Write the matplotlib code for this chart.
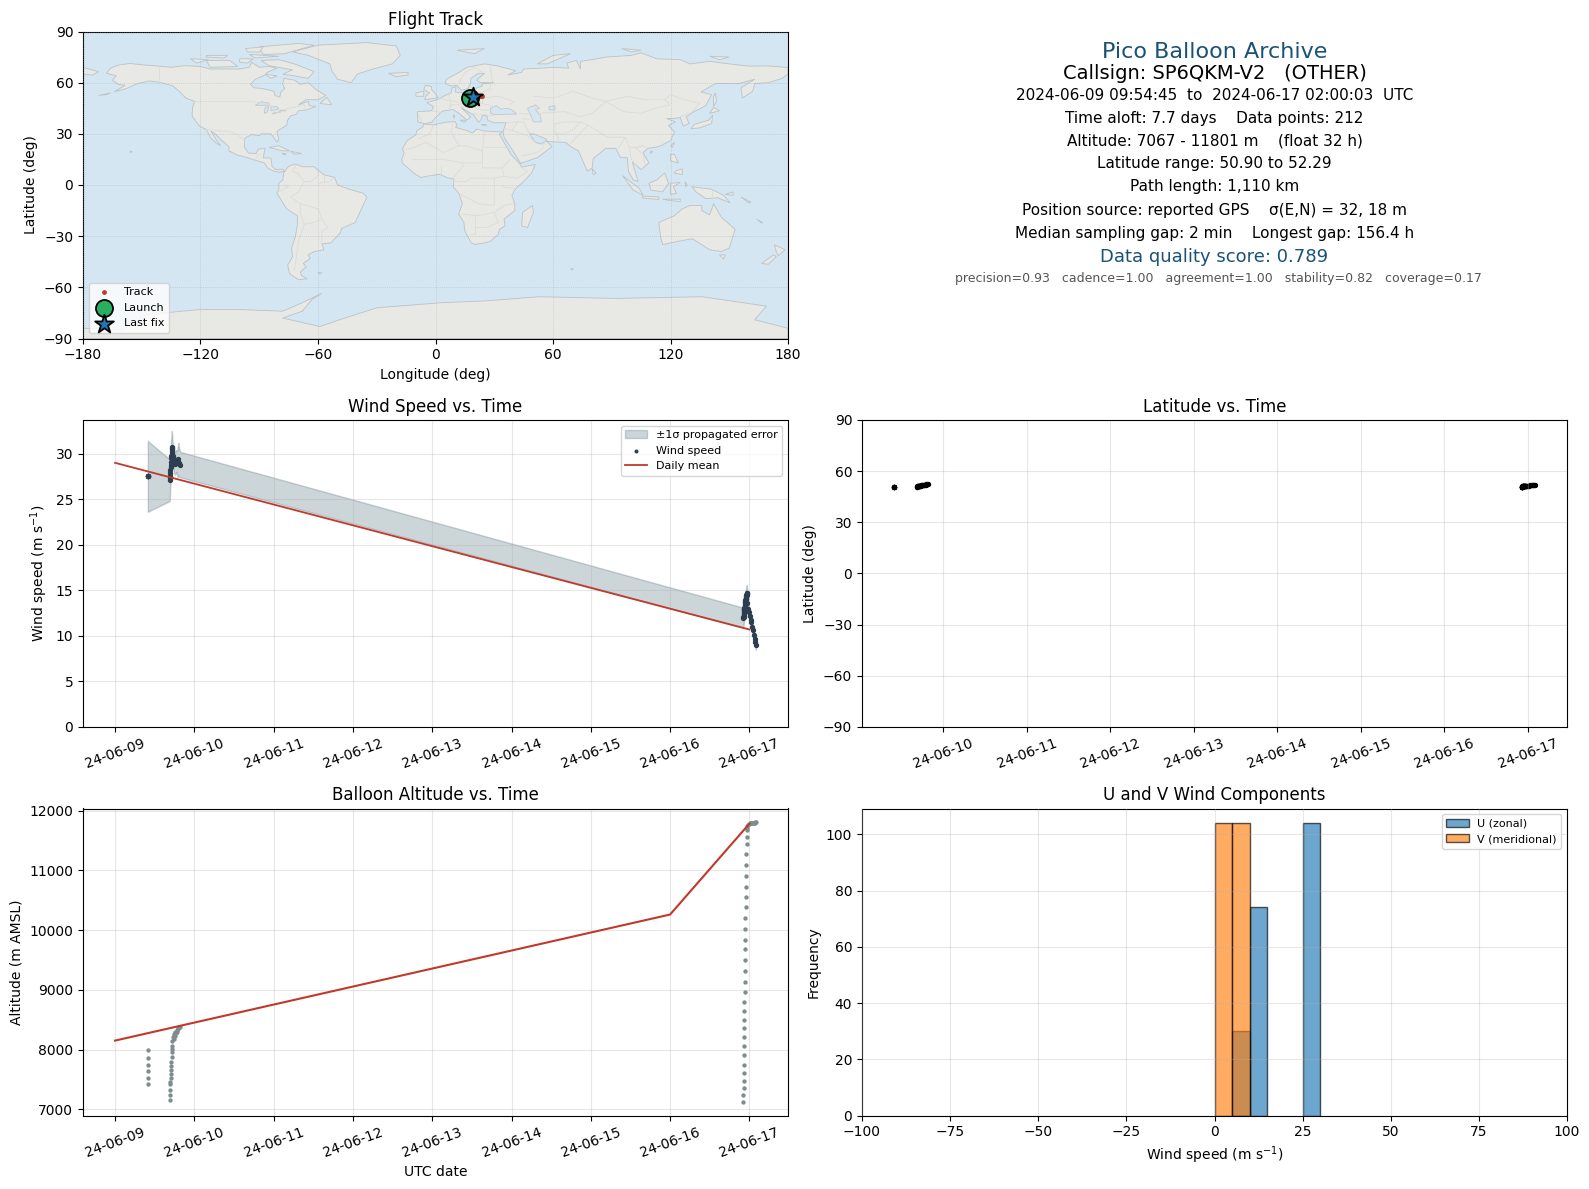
import numpy as np
import matplotlib
matplotlib.use("Agg")
import matplotlib.pyplot as plt
import matplotlib.dates as mdates
from matplotlib.patches import Polygon
from matplotlib.collections import LineCollection

# ---------- flight data (day of June 2024) ----------
days_a = [9.413, 9.414, 9.415, 9.416, 9.417, 9.418]
wind_a = [27.5, 27.5, 27.5, 27.5, 27.6, 27.5]
sig_a = [3.85, 3.85, 3.85, 3.85, 3.85, 3.85]
alt_a = [7425, 7525, 7642, 7743, 7860, 8000]
lat_a = [50.9, 50.95, 50.95, 51.0, 51.0, 51.0]
lon_a = [17.6, 17.6, 17.6, 17.6, 17.6, 17.6]

days_b = [9.689, 9.691, 9.693, 9.695, 9.698, 9.700, 9.702, 9.705, 9.707, 9.710, 9.713, 9.716, 9.719, 9.722]
wind_b = [27.1, 27.3, 27.6, 27.9, 28.2, 28.5, 28.8, 29.1, 29.5, 29.8, 30.1, 30.5, 30.6, 30.7]
sig_b = [2.3, 2.2, 2.0, 1.8, 1.7, 1.6, 1.6, 1.8, 2.0, 2.0, 2.1, 2.0, 1.6, 1.3]
alt_b = [7157, 7240, 7324, 7425, 7464, 7530, 7592, 7654, 7720, 7799, 7871, 7955, 8011, 8067]
lat_b = [51.0, 51.0, 51.05, 51.05, 51.1, 51.1, 51.15, 51.15, 51.2, 51.2, 51.25, 51.3, 51.3, 51.35]
lon_b = [17.8, 17.9, 18.0, 18.1, 18.2, 18.3, 18.4, 18.5, 18.6, 18.7, 18.8, 18.9, 19.0, 19.1]

days_c = [9.724, 9.730, 9.738, 9.746, 9.752, 9.760, 9.768, 9.776, 9.784, 9.792, 9.800, 9.810, 9.824]
wind_c = [30.3, 29.8, 29.4, 29.1, 29.0, 28.9, 29.1, 29.2, 29.0, 29.1, 29.4, 29.0, 28.8]
sig_c = [1.1, 1.0, 1.2, 1.3, 1.2, 1.2, 1.3, 1.2, 1.3, 1.7, 1.8, 1.5, 1.4]
alt_c = [8151, 8207, 8180, 8263, 8230, 8300, 8270, 8330, 8300, 8365, 8340, 8380, 8385]
lat_c = [51.4, 51.5, 51.6, 51.7, 51.75, 51.8, 51.9, 52.0, 52.05, 52.1, 52.2, 52.25, 52.29]
lon_c = [19.4, 19.8, 20.2, 20.6, 21.0, 21.4, 21.8, 22.2, 22.5, 22.8, 23.1, 23.4, 23.8]

days_d = [16.924, 16.925, 16.926, 16.927, 16.928, 16.929, 16.930, 16.931, 16.932, 16.933,
          16.935, 16.936, 16.937, 16.939, 16.940, 16.942, 16.943, 16.945, 16.946, 16.948,
          16.950, 16.952, 16.954, 16.956, 16.958, 16.960, 16.962, 16.964, 16.966, 16.968]
wind_d = [12.0, 12.1, 12.1, 12.2, 12.3, 12.4, 12.5, 12.6, 12.7, 12.8,
          12.9, 13.0, 13.1, 13.2, 13.3, 13.4, 13.5, 13.6, 13.7, 13.8,
          13.9, 14.0, 14.1, 14.2, 14.3, 14.4, 14.5, 14.6, 14.7, 14.7]
sig_d = [1.1, 1.1, 1.1, 1.1, 1.1, 1.1, 1.1, 1.0, 1.0, 1.0,
         1.0, 1.0, 1.0, 1.0, 1.0, 1.0, 1.0, 1.0, 1.0, 1.0,
         1.0, 1.0, 1.0, 1.0, 0.9, 0.9, 0.9, 0.9, 0.9, 0.9]
alt_d = [7130, 7235, 7357, 7475, 7609, 7743, 7911, 8061, 8212, 8363,
         8497, 8648, 8799, 8967, 9134, 9319, 9503, 9687, 9838, 10022,
         10207, 10391, 10559, 10727, 10911, 11095, 11280, 11447, 11565, 11671]
lat_d = [50.95, 50.95, 50.95, 51.0, 51.0, 51.0, 51.0, 51.0, 51.0, 51.05,
         51.05, 51.05, 51.05, 51.05, 51.1, 51.1, 51.1, 51.1, 51.1, 51.1,
         51.15, 51.15, 51.15, 51.15, 51.2, 51.2, 51.2, 51.2, 51.25, 51.25]
lon_d = [17.6, 17.6, 17.7, 17.7, 17.8, 17.8, 17.8, 17.9, 17.9, 17.9,
         18.0, 18.0, 18.0, 18.1, 18.1, 18.1, 18.2, 18.2, 18.2, 18.3,
         18.3, 18.3, 18.4, 18.4, 18.4, 18.5, 18.5, 18.5, 18.6, 18.6]

days_e = [16.970, 16.975, 16.985, 16.995, 17.005, 17.015, 17.025, 17.035, 17.045, 17.055, 17.065, 17.075, 17.083]
wind_e = [14.5, 13.6, 13.0, 12.6, 12.2, 11.8, 11.5, 11.0, 10.6, 10.1, 9.7, 9.3, 9.0]
sig_e = [0.9, 0.8, 0.8, 0.7, 0.7, 0.7, 0.6, 0.6, 0.6, 0.6, 0.5, 0.5, 0.5]
alt_e = [11700, 11740, 11760, 11780, 11785, 11790, 11790, 11795, 11795, 11800, 11800, 11801, 11801]
lat_e = [51.3, 51.35, 51.4, 51.45, 51.5, 51.55, 51.6, 51.65, 51.7, 51.75, 51.8, 51.85, 51.9]
lon_e = [18.6, 18.65, 18.7, 18.75, 18.8, 18.85, 18.9, 18.95, 19.0, 19.0, 19.05, 19.05, 19.1]

mean_days = [9, 16, 17]
mean_alt = [8150, 10260, 11780]
mean_wind_days = [9, 17]
mean_wind = [29.0, 10.7]

launch = (17.6, 50.8)
last_fix = (19.1, 51.4)

hist_width = 5
u_left = [5, 10, 25]
u_counts = [30, 74, 104]
v_left = [0, 5]
v_counts = [104, 104]

info_lines = [
    "Pico Balloon Archive",
    "Callsign: SP6QKM-V2   (OTHER)",
    "2024-06-09 09:54:45  to  2024-06-17 02:00:03  UTC",
    "Time aloft: 7.7 days    Data points: 212",
    "Altitude: 7067 - 11801 m    (float 32 h)",
    "Latitude range: 50.90 to 52.29",
    "Path length: 1,110 km",
    "Position source: reported GPS    σ(E,N) = 32, 18 m",
    "Median sampling gap: 2 min    Longest gap: 156.4 h",
    "Data quality score: 0.789",
    "precision=0.93   cadence=1.00   agreement=1.00   stability=0.82   coverage=0.17",
]

# ---------- map outlines (lon, lat) ----------
land = [
    # North America
    [(-168,65.5),(-166,68.5),(-162,70.3),(-156,71.3),(-150,70.5),(-141,69.7),(-135,69),(-128,70),(-120,69.5),(-115,68),(-108,68),(-100,68),(-95,69),(-94,72),(-90,69),(-85,69.5),(-81,68.5),(-86,66),(-87,64.5),(-92,62),(-94.5,59),(-92.5,57),(-88,56.5),(-82.5,55),(-82,52.5),(-79.5,51.5),(-79,54.5),(-77,56.5),(-78,59),(-77.5,62.5),(-72,61.5),(-69,59),(-65,60),(-61,56),(-56,52.5),(-60,50),(-66,50),(-70,47),(-65,49),(-64.5,46.5),(-61,46),(-66,44),(-70,43.5),(-71,41.5),(-74,40.5),(-75.5,38),(-76,35),(-81,31.5),(-80,26.5),(-81,25.2),(-82.7,28),(-84,30),(-89,30),(-90,29),(-94,29.5),(-97.3,27.5),(-97.7,22.5),(-95.5,18.7),(-91.5,18.5),(-90.5,21),(-87,21.5),(-88,16),(-84,15.8),(-83.5,11),(-81.5,9),(-78,9.3),(-77,8),(-80,7.5),(-83,8.3),(-85.7,10),(-87.5,13),(-92,14.5),(-96,16),(-101,17.5),(-105.5,20),(-105.5,22.5),(-109,26),(-112.5,30),(-114.7,31.7),(-112,26.5),(-109.7,23),(-112,24.5),(-115,28),(-117,32.5),(-120.5,34.5),(-122.5,37.5),(-124.3,40.5),(-124,46),(-123,49),(-127.5,51),(-130.5,54.5),(-134,58),(-140,60),(-146,61),(-152,59.5),(-158,56.5),(-164,54.7),(-158.5,58.5),(-162,59),(-165,61.5),(-163,64),(-168,65.5)],
    # South America
    [(-77,8),(-75,11),(-71.5,12.3),(-68,10.7),(-62,10.7),(-57,6),(-51.5,4.5),(-50,0),(-44,-2.5),(-37,-4.8),(-35,-7),(-37,-12),(-39,-17),(-41,-22),(-48,-25.5),(-48.5,-28),(-53.5,-34),(-58,-34.5),(-57,-38),(-62,-39),(-65,-41),(-64,-43),(-67.5,-46),(-66,-48),(-69,-51),(-68.5,-53),(-65.5,-55),(-70,-55.5),(-74.5,-52),(-75.5,-47),(-73,-42),(-73.5,-37),(-71.5,-30),(-70.5,-23),(-70.5,-18),(-76,-14),(-79.5,-7.5),(-81,-5),(-80,-2.5),(-80,1),(-78,3),(-77.5,7),(-77,8)],
    # Africa
    [(-5.8,35.8),(-1,35.2),(5,36.8),(10,37.2),(11,35),(10.2,33.8),(15,32.3),(19,30.5),(21,32.8),(25,31.7),(32,31.2),(34.3,31.2),(32.6,29.8),(34,27),(37,21),(38.5,18),(41,15),(43.3,12),(44,10.5),(51,12),(49,7),(45,2),(41,-2),(39,-6),(40.5,-11),(40.5,-15),(35,-20),(35.5,-24),(32.7,-26),(32,-29),(28,-33),(25,-34),(20,-34.8),(18.3,-34),(15,-27),(14.5,-22),(11.8,-17),(13.7,-11),(12,-5),(9,-1),(9.5,3.5),(6,4.3),(2,6.3),(-4,5.2),(-7.5,4.4),(-11,6.8),(-13.5,9.5),(-16.7,12.5),(-17.3,14.7),(-16,19),(-17,21),(-14.5,26),(-10,29.5),(-9.5,32),(-6.5,34),(-5.8,35.8)],
    # Eurasia
    [(-9,37),(-9.3,43),(-2,43.5),(-1,46),(-4.5,48.4),(1,50),(4,52),(8,54),(8.5,57),(10.5,57.5),(10,54.5),(14,54),(19,54.5),(21,57),(24,58),(23.5,59.3),(30,60),(23,60),(21,61.5),(25,65.5),(22,65.5),(18,62.5),(18,60),(16.5,56.5),(13,55.5),(11,58.5),(8,58),(5,59.5),(5.5,62),(12,66),(16,69),(25,71),(31,70),(41,67),(37,64.5),(44,66),(45,68),(54,68.5),(60,69),(68,68.5),(67,71.5),(72,73),(74,68),(74,72.5),(80,73.5),(87,75),(100,76),(105,77.5),(113,74),(125,73.5),(130,71),(140,72.5),(150,71),(160,69.7),(170,69.8),(180,68.9),(180,65),(177,62.5),(170,60),(163,59.5),(162,55),(156.7,51),(156,57),(163,62),(155,59.5),(143,59.5),(135.5,54.5),(141,53),(138,46.5),(132,43),(128,40),(129.5,36),(126.5,34.5),(125,39.5),(121,39),(118,39),(122.5,37),(119,35),(122,31),(120,26),(114,22.5),(108.5,21.5),(106,19),(109,13),(105,9),(100.5,13.5),(103.5,2),(101,3),(98.5,8),(98,16),(94.5,16),(92,21.5),(87,21.5),(80.5,15.5),(80,10),(77.5,8),(73,20),(69,22.5),(66.5,25),(57,25.5),(56.5,27),(50,30),(48,30),(51,25),(54,24),(56.5,26),(59.5,22.5),(52,16),(43.5,12.7),(39,21),(35,28),(34.5,31.3),(36,36.5),(30,36.5),(26.5,38),(26.3,40.5),(24,40.7),(23,38),(22,36.7),(19.5,41),(13,45.5),(18,40),(16,38),(12,42),(9,44.3),(3.5,43.3),(0,39.5),(-2,36.7),(-5.5,36),(-9,37)],
    # Chukotka across the date line
    [(-180,68.9),(-172,66.5),(-175,64.5),(-180,65)],
    # Greenland and Arctic islands
    [(-73,78),(-60,82),(-35,83.5),(-20,81.5),(-18,76),(-22,71),(-32,68),(-40,65),(-43,60),(-50,62),(-53,67),(-54,71),(-65,76),(-73,78)],
    [(-80,73.5),(-72,71),(-62,66.5),(-65,62.5),(-72,64),(-78,65),(-73,67.5),(-85,70),(-89,73),(-80,73.5)],
    [(-117,73),(-105,73),(-101,69.5),(-115,69),(-117,73)],
    [(-90,81),(-70,83),(-62,82),(-77,77),(-88,76.5),(-90,81)],
    [(-125,74),(-116,73.5),(-122,71.5),(-125,74)],
    [(-95,76.5),(-80,75.5),(-92,74.5)],
    [(-117,76),(-106,76),(-108,74.5),(-117,75)],
    [(-100,74),(-93,74),(-96,71.5),(-100,72)],
    [(-87,65),(-81,64),(-84,62.5)],
    [(-97,80),(-88,81),(-90,78),(-96,78)],
    [(-59,47.8),(-53,47),(-55.5,51.5),(-59,47.8)],
    [(-85,22),(-80,23),(-74.5,20),(-78,20),(-85,22)],
    [(-74,19.8),(-68.5,18.5),(-72,18)],
    [(-78.3,18.4),(-76.3,18.2),(-77,17.8)],
    [(-156,20),(-155,19.5),(-155.7,19)],
    [(-172,52.5),(-166,54),(-168,53)],
    [(-5.5,50),(1.3,51.2),(0,53.5),(-2,56),(-2,57.7),(-5,58.5),(-6,56),(-3,54),(-5,52),(-5.5,50)],
    [(-10,52),(-6,52),(-6,55),(-10,54)],
    [(-24,65.5),(-14,66),(-14,64.5),(-20,63.5),(-24,65.5)],
    [(11,79),(25,80),(20,77),(11,79)],
    [(52,71),(57,71),(69,77),(60,76),(52,71)],
    [(95,80),(105,79),(100,78)],
    [(140,75.5),(150,75),(145,73.5)],
    [(9,41),(9.7,41),(9.5,39)],
    [(12.5,38),(15.5,38),(15,36.7)],
    [(23.5,35.5),(26,35.2),(24.5,35)],
    [(130.5,33),(135,33.5),(141,36),(141.5,41),(139.5,38),(132,35.5),(130.5,33)],
    [(140,42),(145,43.5),(142,45.5)],
    [(142,46),(143.5,49),(143,54),(142,52)],
    [(120,23),(121,22),(122,25)],
    [(110,20),(111,19.5),(109.5,18.3)],
    [(120,18),(122,18),(124,13),(120,14)],
    [(122,7),(126,6),(126,9.5),(123,8.5)],
    [(109,1),(113,3),(117,7),(119,1),(116,-4),(110,-3)],
    [(95.5,5.5),(104,-2),(106,-6),(101,-3)],
    [(105.5,-6.5),(114,-7),(114,-8.5),(106,-7.7)],
    [(116,-8.3),(125,-8.3),(125,-9.7),(119,-9)],
    [(120,1),(125,1.5),(121.5,-1),(123,-5),(120,-5.5)],
    [(127.5,2),(128.5,0),(127.7,-1)],
    [(131,-1),(141,-2.5),(147,-6),(150.5,-10.5),(144,-7.5),(138,-8),(133,-4)],
    [(148,-5.5),(152,-4),(152,-6)],
    [(156,-7),(161,-10),(160,-10.5)],
    [(164,-20),(167,-22),(166.5,-22.3)],
    # Australia and neighbours
    [(114,-22),(122,-18),(126,-14),(130,-12),(136,-12),(136,-15),(140,-17.5),(142,-11),(146,-19),(153,-26),(150,-37),(146,-39),(140,-38),(136,-35),(131,-31.5),(124,-33),(116,-35),(115,-31),(114,-22)],
    [(145,-41),(148,-41),(147,-43.5)],
    [(173,-35),(178.5,-38),(175,-41.5),(174,-39)],
    [(172.5,-41),(174,-42),(170,-46.5),(166.5,-46)],
    [(49.5,-12),(50,-16),(47,-25),(44,-24),(44.5,-16)],
    [(80,9.5),(82,7),(80.5,6)],
    [(-60,-51.3),(-58,-51.5),(-59,-52.3)],
    [(69,-49),(70.5,-49.3),(69.5,-49.8)],
    # Antarctica
    [(-180,-90),(-180,-84),(-160,-85),(-148,-76),(-120,-73),(-100,-73),(-78,-74),(-68,-69),(-58,-63.5),(-63,-67),(-68,-74),(-78,-78),(-59,-83),(-49,-79),(-30,-72),(3,-69),(25,-68),(53,-65.5),(93,-66.5),(136,-65.5),(169,-71),(163,-79),(180,-84),(180,-90)],
]
inland_water = [
    [(-92,46.7),(-85,46.8),(-85,48),(-89,48.8)],
    [(-87.5,42),(-86,42.5),(-85,46),(-87,45.5)],
    [(-84,43.5),(-80,44.5),(-81,46),(-84,46)],
    [(-83,41.7),(-79,42.8),(-79.5,42.9),(-83,42.2)],
    [(-79.5,43.3),(-76.5,43.5),(-76.5,44),(-79.5,43.8)],
    [(28,42),(28,45),(31,46.5),(33.5,44.5),(37,45),(39,44),(41.5,41.6),(36,41.5),(31,41.2)],
    [(47,45),(51,47),(53,45),(51,44),(53.5,41),(54,37),(50,37),(49,40)],
    [(58,46),(61,46.5),(61,44),(58,44)],
]
borders = [
    [(-141,69.7),(-141,60)], [(-123,49),(-95,49),(-88,48),(-83,46),(-82,42),(-79,43),(-75,45),(-70,46),(-67,47.5),(-67,45)],
    [(-117,32.5),(-108,31.5),(-106,31.7),(-101,29.5),(-97.5,26)], [(-92,14.5),(-91,17.5),(-89,18)],
    [(-71,12),(-73,8),(-70,6.5),(-67,2),(-70,-4),(-74,-7),(-69,-11),(-69,-17),(-67,-23),(-70,-33),(-72,-50)],
    [(-60,8),(-60,5),(-64,2),(-67,2)], [(-57,6),(-57,2)], [(-52,4),(-54,2),(-60,1)],
    [(-69,-11),(-60,-14),(-58,-20),(-55,-25),(-58,-27),(-58,-34)], [(-67,-23),(-62,-22),(-58,-20)], [(-78,0),(-75,-1),(-80,-4)],
    [(-9,27),(-3,30),(-1,35)], [(9,37),(8,31),(12,23),(15,23),(24,20),(25,31.5)], [(25,22),(36,22)], [(24,20),(24,10),(34,10),(35,5),(42,4),(47,8),(43,11)],
    [(-17,21),(-13,21),(-5,25),(4,19),(12,23)], [(-12,15),(-5,15),(4,15),(14,13),(24,13)], [(3,6),(3,12)], [(9,4),(14,11),(14,13)],
    [(9,2),(16,2),(18,4),(30,4),(35,5)], [(12,-5),(22,-11),(30,-12),(30,-8),(30,4)], [(13,-17),(22,-18),(30,-16),(35,-12),(40,-11)],
    [(20,-18),(20,-29),(17,-29)], [(20,-25),(26,-25),(32,-22),(30,-16)], [(34,10),(38,15)], [(34,-1),(41,-2)],
    [(-2,43.4),(3,42.5)], [(-9,42),(-7,37.2)], [(2,51),(8,49),(7,44)], [(7,54),(7,50),(13,48),(17,48),(23,48),(30,46)], [(14,54),(15,51),(19,49.5),(24,48),(24,51),(23,54),(21,55)],
    [(23,54),(28,56),(28,59.5)], [(24,51),(32,52),(40,49),(38,47)], [(13,47),(8,47),(7,44)], [(13,46),(19,46),(23,44),(29,44)], [(19,42),(22,41),(26,41.5)],
    [(28,70),(29,61),(30,60)], [(20,69),(24,66)], [(12,60),(15,66),(20,69)],
    [(26,41),(30,41)], [(36,36.5),(42,37),(45,37),(48,30)], [(35,33),(39,32),(42,37)], [(39,32),(47,29),(51,25)], [(44,17),(52,19),(55,22),(56,26)], [(43,42),(48,41.5)],
    [(44,39),(48,38.5)], [(61,36),(61,31),(63,27),(61,25)], [(61,36),(66,37),(74,37),(71,33),(66,30),(61,30)], [(74,37),(78,35),(75,32),(71,27),(69,24)], [(78,35),(88,28),(97,28),(93,21)],
    [(50,52),(61,51),(70,55),(80,51),(87,49),(98,52),(107,50),(117,50),(120,53),(127,50),(135,48),(131,43)], [(50,46),(53,42),(66,43),(74,40),(80,42),(87,49)], [(87,49),(96,43),(105,42),(112,45),(120,47),(117,50)],
    [(97,28),(99,22),(102,22),(106,23),(108.5,21.5)], [(99,22),(100,15),(103,11)], [(102,22),(106,18),(107,12)], [(125,40),(130,42.5)], [(141,-2.5),(141,-9)],
]
lon_ticks = [-180, -120, -60, 0, 60, 120, 180]
lat_ticks = [-90, -60, -30, 0, 30, 60, 90]


def concat(*groups):
    return np.concatenate([np.asarray(g, dtype=float) for g in groups])


def to_dates(day_values):
    base = mdates.date2num(np.datetime64("2024-06-01"))
    return base + np.asarray(day_values, dtype=float) - 1


days = to_dates(concat(days_a, days_b, days_c, days_d, days_e))
wind = concat(wind_a, wind_b, wind_c, wind_d, wind_e)
sigma = concat(sig_a, sig_b, sig_c, sig_d, sig_e)
alt = concat(alt_a, alt_b, alt_c, alt_d, alt_e)
lat = concat(lat_a, lat_b, lat_c, lat_d, lat_e)
lon = concat(lon_a, lon_b, lon_c, lon_d, lon_e)

W, H = 1589, 1189
fig = plt.figure(figsize=(W / 100, H / 100), dpi=100)


def box(l, r, t, b):
    return [l / W, 1 - b / H, (r - l) / W, (b - t) / H]


L1, R1, L2, R2 = 83, 788, 862, 1567
T1, B1, T2, B2, T3, B3 = 31.5, 338.5, 420, 727, 808.5, 1115.5

RED = "#c0392b"
DARK = "#2c3e50"
GREY = "#7f8c8d"
BLUE = "#1a5276"


def style_dates(ax):
    ax.xaxis.set_major_locator(mdates.DayLocator())
    ax.xaxis.set_major_formatter(mdates.DateFormatter("%y-%m-%d"))
    ax.tick_params(axis="x", labelrotation=20)
    ax.grid(True, alpha=0.3)


# ---- map
ax = fig.add_axes(box(L1, R1, T1, B1))
ax.set_facecolor("#d4e6f1")
for poly in land:
    ax.add_patch(Polygon(poly, closed=True, facecolor="#e8e8e4", edgecolor="#bcc3c6", lw=0.6, zorder=1))
for poly in inland_water:
    ax.add_patch(Polygon(poly, closed=True, facecolor="#d4e6f1", edgecolor="#bcc3c6", lw=0.5, zorder=1.1))
ax.add_collection(LineCollection(borders, colors="#dbdcd8", linewidths=0.6, zorder=1.2))
ax.grid(True, color="#9aa5ab", lw=0.5, ls=":", alpha=0.6, zorder=1.5)
ax.set_axisbelow(False)
ax.scatter(lon, lat, s=6, color=RED, label="Track", zorder=3)
ax.scatter(*launch, s=150, color="#27ae60", edgecolor="black", linewidth=1.3, label="Launch", zorder=4)
ax.scatter(*last_fix, s=200, color="#1f77b4", marker="*", edgecolor="black", linewidth=1.3, label="Last fix", zorder=5)
ax.set_xlim(-180, 180)
ax.set_ylim(-90, 90)
ax.set_xticks(lon_ticks)
ax.set_yticks(lat_ticks)
ax.set_xlabel("Longitude (deg)")
ax.set_ylabel("Latitude (deg)")
ax.set_title("Flight Track", pad=5)
ax.legend(loc="lower left", fontsize=8)

# ---- info panel
ax = fig.add_axes(box(L2, R2, T1, B1))
ax.axis("off")
info_y = [0.934, 0.863, 0.790, 0.715, 0.643, 0.571, 0.496, 0.418, 0.343, 0.264, 0.196]
info_x = [0.5, 0.5, 0.5, 0.5, 0.5, 0.5, 0.5, 0.5, 0.5, 0.5, 0.505]
info_size = [16, 14, 11, 11, 11, 11, 11, 11, 11, 13, 9]
info_color = [BLUE, "black", "black", "black", "black", "black", "black", "black", "black", BLUE, "#555555"]
for s, x, y, fs, c in zip(info_lines, info_x, info_y, info_size, info_color):
    ax.text(x, y, s, ha="center", va="center", fontsize=fs, color=c, transform=ax.transAxes)

# ---- wind
ax = fig.add_axes(box(L1, R1, T2, B2))
ax.fill_between(days, wind - sigma, wind + sigma, color="#587680", alpha=0.3, label="±1σ propagated error")
ax.scatter(days, wind, s=8, color=DARK, label="Wind speed", zorder=3)
ax.plot(to_dates(mean_wind_days), mean_wind, color=RED, lw=1.3, label="Daily mean", zorder=4)
style_dates(ax)
ax.set_ylim(bottom=0)
ax.set_ylabel("Wind speed (m s$^{-1}$)")
ax.set_title("Wind Speed vs. Time")
ax.legend(loc="upper right", fontsize=8, markerscale=0.65)

# ---- latitude
ax = fig.add_axes(box(L2, R2, T2, B2))
ax.scatter(days, lat, s=8, color="black")
style_dates(ax)
ax.set_ylim(-90, 90)
ax.set_yticks(lat_ticks)
ax.set_ylabel("Latitude (deg)")
ax.set_title("Latitude vs. Time")

# ---- altitude
ax = fig.add_axes(box(L1, R1, T3, B3))
ax.scatter(days, alt, s=4.5, color=GREY, zorder=3)
ax.plot(to_dates(mean_days), mean_alt, color=RED, lw=1.5, zorder=4)
style_dates(ax)
ax.set_xlabel("UTC date")
ax.set_ylabel("Altitude (m AMSL)")
ax.set_title("Balloon Altitude vs. Time")

# ---- histogram
ax = fig.add_axes(box(L2, R2, T3, B3))
ax.bar(u_left, u_counts, width=hist_width, align="edge", alpha=0.65, edgecolor="black", color="#1f77b4", label="U (zonal)")
ax.bar(v_left, v_counts, width=hist_width, align="edge", alpha=0.65, edgecolor="black", color="#ff7f0e", label="V (meridional)")
ax.set_xlim(-100, 100)
ax.grid(True, alpha=0.3)
ax.set_axisbelow(False)
ax.set_xlabel("Wind speed (m s$^{-1}$)")
ax.set_ylabel("Frequency")
ax.set_title("U and V Wind Components")
ax.legend(loc="upper right", fontsize=8)

fig.savefig("out.png", dpi=100)
